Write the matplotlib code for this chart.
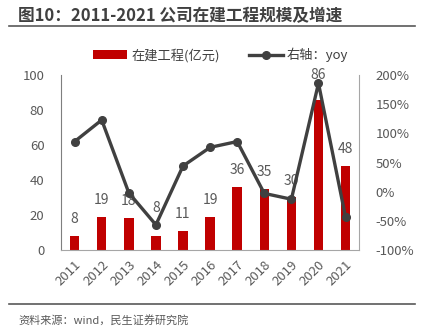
import numpy as np
import matplotlib.pyplot as plt
from matplotlib.ticker import FuncFormatter

plt.rcParams['font.family'] = ['Noto Sans CJK SC', 'DejaVu Sans']

# data
years = ["2011", "2012", "2013", "2014", "2015", "2016", "2017", "2018", "2019", "2020", "2021"]
cip = [8, 19, 18, 8, 11, 19, 36, 35, 30, 86, 48]          # 在建工程(亿元)
yoy = [86, 123, -2, -57, 44, 76, 86, -3, -13, 186, -44]   # 右轴 yoy (%)

bar_color = "#C00000"
line_color = "#404040"
text_color = "#595959"

fig = plt.figure(figsize=(4.24, 3.31), dpi=100)
ax = fig.add_axes([0.144, 0.245, 0.703, 0.528])
x = np.arange(len(years))

ax.bar(x, cip, width=0.35, color=bar_color, zorder=2, label="在建工程(亿元)")
# labels that would sit under a line marker get lifted a bit more
lift = {"2014": 15.8, "2020": 14}
for xi, yr, v in zip(x, years, cip):
    ax.text(xi, v + lift.get(yr, 9.7), str(v), ha="center", va="center",
            fontsize=10, color=text_color, zorder=1)

ax.set_xlim(-0.5, 10.5)
ax.set_ylim(0, 100)
ax.set_yticks(range(0, 101, 20))
ax.set_xticks(x)
ax.set_xticklabels(years, rotation=45, ha="right", rotation_mode="anchor")
ax.tick_params(axis="both", length=0, labelsize=9.5, colors=text_color)
ax.tick_params(axis="y", pad=12)
ax.tick_params(axis="x", pad=6)
for s in ["top", "right"]:
    ax.spines[s].set_visible(False)
ax.spines["left"].set_color("#7F7F7F")
ax.spines["bottom"].set_color("#A6A6A6")

ax2 = ax.twinx()
ax2.plot(x, yoy, color=line_color, lw=2.4, marker="o", ms=5.5, zorder=3, label="右轴：yoy")
ax2.set_ylim(-100, 200)
ax2.set_yticks(range(-100, 201, 50))
ax2.yaxis.set_major_formatter(FuncFormatter(lambda v, p: f"{v:.0f}%"))
ax2.tick_params(axis="y", length=0, labelsize=9.5, colors=text_color, pad=12)
for s in ["top", "left", "bottom"]:
    ax2.spines[s].set_visible(False)
ax2.spines["right"].set_color("#A6A6A6")

h1, l1 = ax.get_legend_handles_labels()
h2, l2 = ax2.get_legend_handles_labels()
fig.legend(h1 + h2, l1 + l2, loc="center", bbox_to_anchor=(0.52, 0.834), ncol=2,
           frameon=False, fontsize=9.5, handlelength=2.6, handleheight=0.6,
           columnspacing=2.2, handletextpad=0.3, labelcolor="#404040")

# title and source
fig.text(0.043, 0.951, "图10：2011-2021 公司在建工程规模及增速", fontsize=12,
         fontweight="bold", color="#404040", va="center", ha="left")
fig.add_artist(plt.Line2D([0.021, 0.979], [0.921, 0.921], color="#595959", lw=1.2))
fig.add_artist(plt.Line2D([0.021, 0.979], [0.082, 0.082], color="#595959", lw=1.2))
fig.text(0.043, 0.033, "资料来源：wind，民生证券研究院", fontsize=8, color="#595959",
         va="center", ha="left")

fig.savefig("out.png", dpi=100)
